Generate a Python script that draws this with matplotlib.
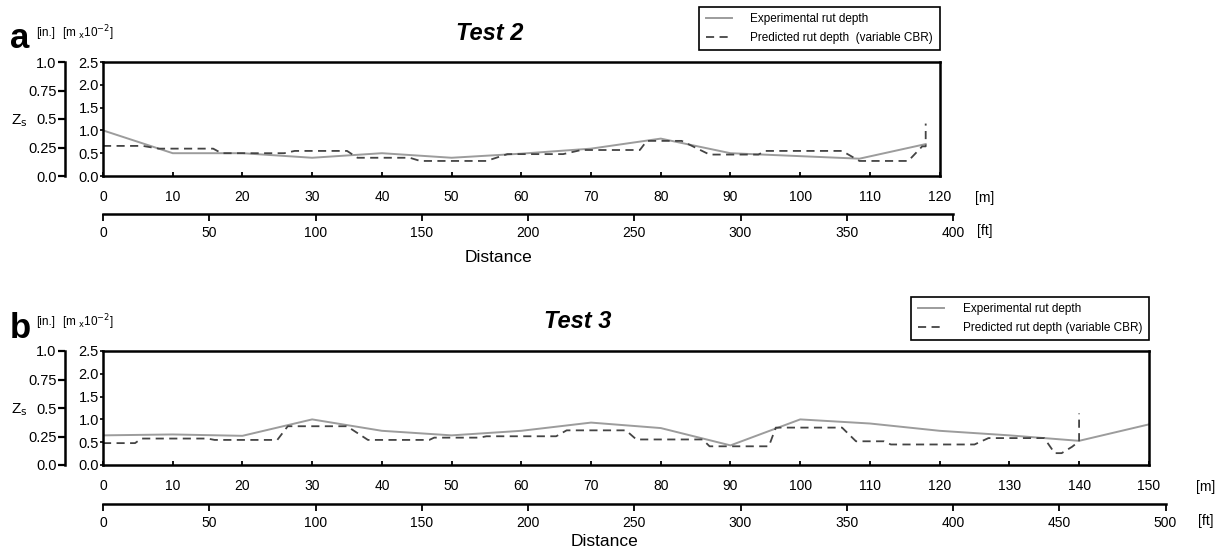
import matplotlib.pyplot as plt
import numpy as np

plt.rcParams['font.family'] = ['Liberation Sans', 'DejaVu Sans']

# rut depth values in m x10^-2, distance in m
t2_exp_x = [0, 10, 20, 30, 40, 50, 60, 70, 80, 90, 108.5, 118]
t2_exp_y = [1.0, 0.5, 0.5, 0.4, 0.5, 0.4, 0.49, 0.6, 0.82, 0.5, 0.38, 0.7]
t2_pred_x = [0, 5.7, 8, 15.8, 17, 26, 27.5, 35, 36.5, 44, 45.5, 55, 58, 66, 68.6, 77,
             78, 83, 87, 94, 95, 106, 108.5, 115.5, 117.5, 118, 118]
t2_pred_y = [0.66, 0.66, 0.6, 0.6, 0.5, 0.5, 0.55, 0.55, 0.4, 0.4, 0.33, 0.33, 0.48, 0.48,
             0.57, 0.57, 0.77, 0.77, 0.47, 0.47, 0.55, 0.55, 0.33, 0.33, 0.65, 0.65, 1.15]

t3_exp_x = [0, 10, 20, 30, 40, 50, 60, 70, 80, 90, 100, 110, 120, 130, 140, 150]
t3_exp_y = [0.65, 0.67, 0.64, 1.0, 0.75, 0.65, 0.75, 0.93, 0.81, 0.43, 1.0, 0.91, 0.75,
            0.65, 0.53, 0.89]
t3_pred_x = [0, 4.6, 5.5, 15, 16, 25, 26.5, 35, 38, 46.8, 47.5, 54, 55, 65, 66.5, 75, 76.5,
             86, 87, 95.5, 96.5, 106, 108, 112, 113, 125, 127, 135, 136.5, 137.5, 139, 140, 140]
t3_pred_y = [0.48, 0.48, 0.58, 0.58, 0.55, 0.55, 0.85, 0.85, 0.55, 0.55, 0.6, 0.6, 0.63,
             0.63, 0.76, 0.76, 0.56, 0.56, 0.41, 0.41, 0.82, 0.82, 0.52, 0.52, 0.45, 0.45,
             0.59, 0.59, 0.26, 0.26, 0.4, 0.52, 1.13]

m_ticks_2 = np.arange(0, 121, 10)
ft_ticks_2 = np.arange(0, 401, 50)
m_ticks_3 = np.arange(0, 151, 10)
ft_ticks_3 = np.arange(0, 501, 50)
z_ticks = [0, 0.5, 1.0, 1.5, 2.0, 2.5]
in_ticks = [0, 0.25, 0.5, 0.75, 1.0]
in_labels = ['0.0', '0.25', '0.5', '0.75', '1.0']

W, H = 1218, 551
fig = plt.figure(figsize=(W / 100, H / 100), dpi=100)

EXP_C = '#9c9c9c'
PRED_C = '#444444'
SCALE = 6.972  # px per m


def px(x, y, w, h):
    # pixel box (from top-left) -> figure fraction
    return [x / W, 1 - (y + h) / H, w / W, h / H]


def panel(top, xmax, ftmax, m_ticks, ft_ticks, ex, ey, pdx, pdy, letter, title,
          title_x, pred_label, leg_top, munit_x, ft_y, dist_x, dist_y):
    width = xmax * SCALE
    ax = fig.add_axes(px(103, top, width, 114))
    ax.plot(ex, ey, color=EXP_C, lw=1.4, label='Experimental rut depth')
    ax.plot(pdx, pdy, color=PRED_C, lw=1.3, ls=(0, (4.5, 3)), label=pred_label)
    ax.set_xlim(0, xmax)
    ax.set_ylim(0, 2.5)
    for s in ax.spines.values():
        s.set_linewidth(1.8)
    ax.set_xticks(m_ticks)
    ax.set_xticklabels([str(v) for v in m_ticks], fontsize=10)
    ax.tick_params(axis='x', direction='in', length=3, width=1.3, pad=10)
    ax.set_yticks(z_ticks)
    ax.set_yticklabels(['%.1f' % v for v in z_ticks], fontsize=10.5)
    ax.tick_params(axis='y', direction='out', length=2, width=1.2, pad=1)
    ax.text(munit_x, -0.19, '[m]', transform=ax.get_xaxis_transform(),
            fontsize=10, ha='center', va='center', clip_on=False)

    leg = ax.legend(loc='upper right', bbox_to_anchor=((103 + width) / W, 1 - leg_top / H),
                    bbox_transform=fig.transFigure, borderaxespad=0, fancybox=False,
                    framealpha=1, edgecolor='black', prop={'size': 8.5},
                    handlelength=2.2, borderpad=0.55, labelspacing=0.55, handletextpad=1.6)
    leg.get_frame().set_linewidth(1.2)

    # inch axis
    ai = fig.add_axes(px(65, top, 0.5, 114))
    ai.set_ylim(0, 1.0)
    for k in ['top', 'right', 'bottom']:
        ai.spines[k].set_visible(False)
    ai.spines['left'].set_linewidth(1.8)
    ai.patch.set_visible(False)
    ai.set_xticks([])
    ai.set_yticks(in_ticks)
    ai.set_yticklabels(in_labels, fontsize=10.5)
    ai.tick_params(axis='y', direction='out', length=5, width=1.6, pad=1)

    # feet axis
    ftw = ftmax * 0.3048 * SCALE
    af = fig.add_axes(px(103, ft_y, ftw, 0.5))
    af.set_xlim(0, ftmax)
    for k in ['top', 'right', 'left']:
        af.spines[k].set_visible(False)
    af.spines['bottom'].set_linewidth(1.8)
    af.patch.set_visible(False)
    af.set_yticks([])
    af.set_xticks(ft_ticks)
    af.set_xticklabels([str(v) for v in ft_ticks], fontsize=10)
    af.tick_params(axis='x', direction='out', length=5, width=1.3, pad=4)

    fig.text(munit_x * SCALE / W + 103 / W, 1 - (ft_y + 18) / H, '[ft]',
             fontsize=10, ha='center', va='center')
    fig.text(dist_x / W, 1 - dist_y / H, 'Distance', fontsize=12.5, ha='center', va='center')

    fig.text(20 / W, 1 - (top - 23) / H, letter, fontsize=25, fontweight='bold',
             ha='center', va='center')
    fig.text(46 / W, 1 - (top - 29) / H, '[in.]', fontsize=8.5, ha='center', va='center')
    fig.text(88 / W, 1 - (top - 29) / H, r'[m $_{\mathsf{x}}$10$^{-2}$]', fontsize=8.5,
             ha='center', va='center')
    fig.text(19 / W, 1 - (top + 59) / H, r'Z$_{\mathsf{s}}$', fontsize=11,
             ha='center', va='center')
    fig.text(title_x / W, 1 - (top - 29) / H, title, fontsize=17, fontweight='bold',
             fontstyle='italic', ha='center', va='center')
    return ax


panel(62, 120, 400, m_ticks_2, ft_ticks_2, t2_exp_x, t2_exp_y, t2_pred_x, t2_pred_y,
      'a', 'Test 2', 490, 'Predicted rut depth  (variable CBR)', 7,
      126.5, 213, 498, 257)
panel(351, 150, 500, m_ticks_3, ft_ticks_3, t3_exp_x, t3_exp_y, t3_pred_x, t3_pred_y,
      'b', 'Test 3', 578, 'Predicted rut depth (variable CBR)', 297,
      158.2, 503, 605, 542)

fig.savefig('out.png', dpi=100)
